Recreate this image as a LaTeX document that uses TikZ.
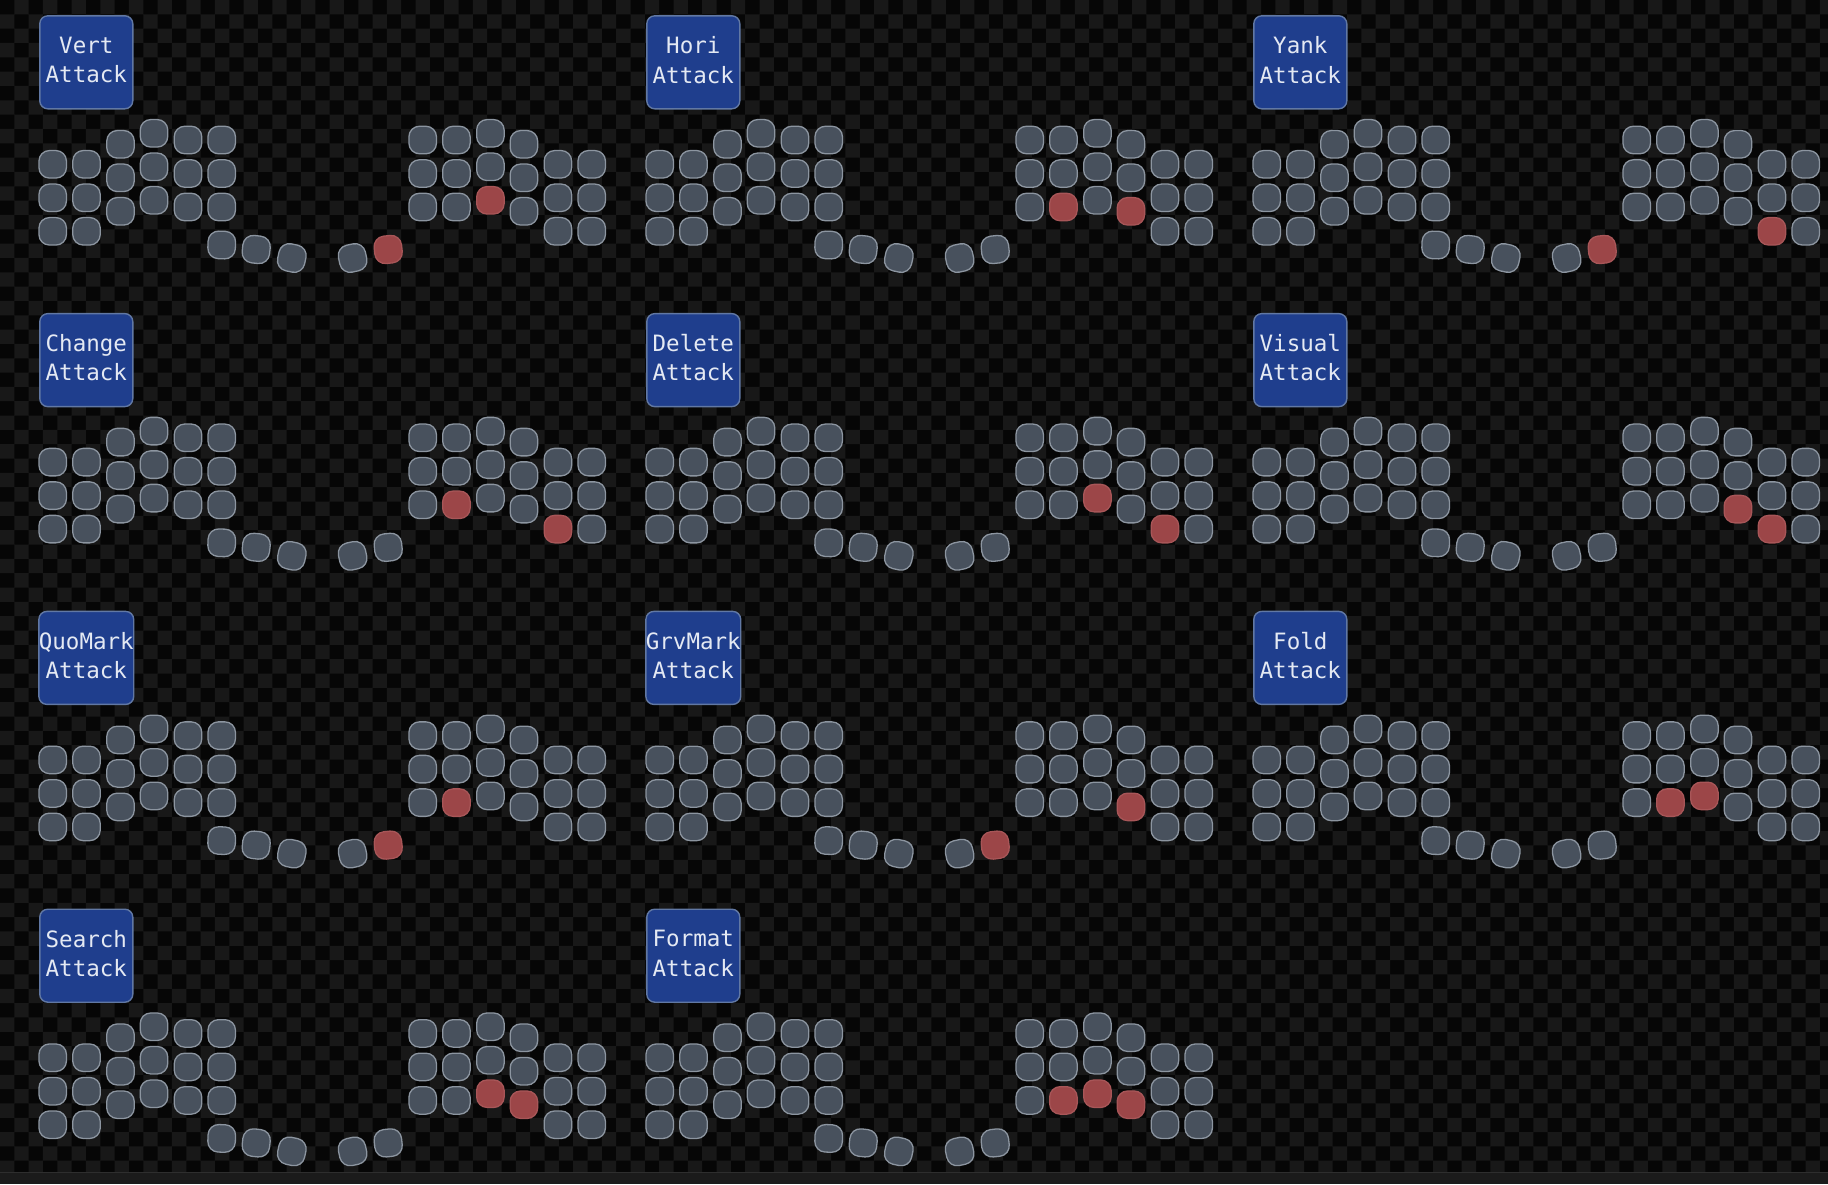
\documentclass[tikz,border=0pt]{standalone}
\usepackage{fontspec}
\setmonofont{DejaVu Sans Mono}
\usepackage{tikz}

\definecolor{chkdark}{HTML}{060606}
\definecolor{chklight}{HTML}{181818}
\definecolor{band}{HTML}{1B1B1B}
\definecolor{bandedge}{HTML}{2E2E2E}
\definecolor{keygray}{HTML}{48515D}
\definecolor{keyedge}{HTML}{8C95A0}
\definecolor{hitred}{HTML}{9C4648}
\definecolor{hitedge}{HTML}{A85658}
\definecolor{tagblue}{HTML}{1F3E8D}
\definecolor{tagedge}{HTML}{6178A4}
\definecolor{tagtext}{HTML}{E4E9F3}

\tikzset{
    key/.style={draw=keyedge, fill=keygray, line width=1.3pt, rounded corners=10.5pt,
        minimum size=27.5pt, inner sep=0pt},
    hit/.style={draw=hitedge, fill=hitred},
    tag/.style={draw=tagedge, fill=tagblue, line width=1.4pt, rounded corners=8pt,
        minimum size=93pt, inner sep=0pt, text depth=5pt, text=tagtext, align=center,
        font=\ttfamily\fontsize{22.5}{29.5}\selectfont}
}

% one split board: name, x, y, label, red keys
\newcommand{\board}[5]{%
    \begin{scope}[shift={(#2,#3)}, #5]
        \node[tag] (#1) at (86.3,62.3) {#4};
        % left half
        \foreach \i/\x/\y in {0/52.7/164.3, 1/86.5/164.3, 2/120.5/144.3, 3/154/133.3, 4/188/140, 5/221.7/140}
            \foreach \j in {0,1,2}
                \node[key, l\i-\j/.try] (#1-l\i-\j) at (\x,\y+\j*33.5) {};
        \foreach \i/\x/\y/\a in {0/221.7/245/-2, 1/256.2/249.5/-6, 2/291.8/258/-12}
            \node[key, rotate=\a, lt\i/.try] (#1-lt\i) at (\x,\y) {};
        % right half
        \foreach \i/\x/\y in {0/422.7/140, 1/456.4/140, 2/490.4/133.3, 3/523.9/144.3, 4/557.9/164.3, 5/591.7/164.3}
            \foreach \j in {0,1,2}
                \node[key, r\i-\j/.try] (#1-r\i-\j) at (\x,\y+\j*33.5) {};
        \foreach \i/\x/\y/\a in {0/352.6/258/12, 1/388.2/249.5/6}
            \node[key, rotate=\a, rt\i/.try] (#1-rt\i) at (\x,\y) {};
    \end{scope}}

\begin{document}
\begin{tikzpicture}[x=1pt, y=-1pt]
    \useasboundingbox (0,0) rectangle (1828,1184);

    % checkered backdrop
    \fill[chkdark] (0,0) rectangle (1828,1172);
    \begin{scope}
        \clip (0,0) rectangle (1828,1172);
        \fill[chklight] \foreach \j in {0,...,81} {
            \foreach \i in {0,...,63} {
                ({(2*\i+mod(\j+1,2))*14.33},{\j*14.33}) rectangle ++(14.33,14.33)
            }
        };
    \end{scope}
    \fill[band] (0,1172) rectangle (1828,1184);
    \draw[bandedge, line width=1pt] (0,1172.5) -- (1828,1172.5);

    % first row
    \board{vert}{0}{0}{Vert\\Attack}{r2-2/.style=hit, rt1/.style=hit}
    \board{hori}{607}{0}{Hori\\Attack}{r1-2/.style=hit, r3-2/.style=hit}
    \board{yank}{1214}{0}{Yank\\Attack}{r4-2/.style=hit, rt1/.style=hit}

    % second row
    \board{change}{0}{297.8}{Change\\Attack}{r1-2/.style=hit, r4-2/.style=hit}
    \board{delete}{607}{297.8}{Delete\\Attack}{r2-2/.style=hit, r4-2/.style=hit}
    \board{visual}{1214}{297.8}{Visual\\Attack}{r3-2/.style=hit, r4-2/.style=hit}

    % third row
    \board{quomark}{0}{595.6}{QuoMark\\Attack}{r1-2/.style=hit, rt1/.style=hit}
    \board{grvmark}{607}{595.6}{GrvMark\\Attack}{r3-2/.style=hit, rt1/.style=hit}
    \board{fold}{1214}{595.6}{Fold\\Attack}{r1-2/.style=hit, r2-2/.style=hit}

    % fourth row
    \board{search}{0}{893.4}{Search\\Attack}{r2-2/.style=hit, r3-2/.style=hit}
    \board{format}{607}{893.4}{Format\\Attack}{r1-2/.style=hit, r2-2/.style=hit, r3-2/.style=hit}

\end{tikzpicture}
\end{document}
